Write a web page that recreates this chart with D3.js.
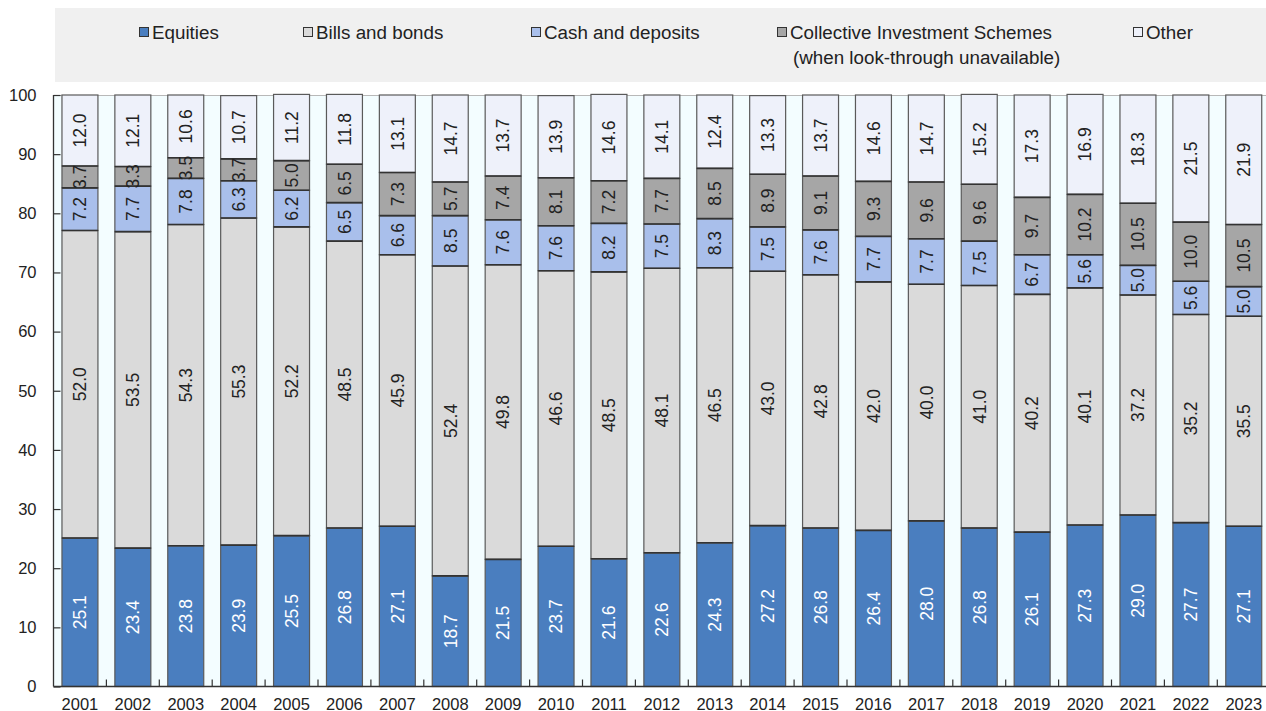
<!DOCTYPE html>
<html>
<head>
<meta charset="utf-8">
<script src="https://cdn.jsdelivr.net/npm/d3@7"></script>
<style>
  html, body { margin: 0; padding: 0; background: #ffffff; }
  svg { display: block; font-family: "Liberation Sans", Arial, sans-serif; }
</style>
</head>
<body>
<svg id="chart" width="1266" height="711"></svg>
<script>
// Portfolio composition by asset class, % of total
const years = ["2001","2002","2003","2004","2005","2006","2007","2008","2009","2010","2011","2012",
               "2013","2014","2015","2016","2017","2018","2019","2020","2021","2022","2023"];
const equities   = [25.1,23.4,23.8,23.9,25.5,26.8,27.1,18.7,21.5,23.7,21.6,22.6,24.3,27.2,26.8,26.4,28.0,26.8,26.1,27.3,29.0,27.7,27.1];
const billsBonds = [52.0,53.5,54.3,55.3,52.2,48.5,45.9,52.4,49.8,46.6,48.5,48.1,46.5,43.0,42.8,42.0,40.0,41.0,40.2,40.1,37.2,35.2,35.5];
const cashDeposits = [7.2,7.7,7.8,6.3,6.2,6.5,6.6,8.5,7.6,7.6,8.2,7.5,8.3,7.5,7.6,7.7,7.7,7.5,6.7,5.6,5.0,5.6,5.0];
const collective = [3.7,3.3,3.5,3.7,5.0,6.5,7.3,5.7,7.4,8.1,7.2,7.7,8.5,8.9,9.1,9.3,9.6,9.6,9.7,10.2,10.5,10.0,10.5];
const other      = [12.0,12.1,10.6,10.7,11.2,11.8,13.1,14.7,13.7,13.9,14.6,14.1,12.4,13.3,13.7,14.6,14.7,15.2,17.3,16.9,18.3,21.5,21.9];
const yTicks = [0,10,20,30,40,50,60,70,80,90,100];

const series = [
  { key: "eq",   name: "Equities",          values: equities,     fill: "#4a7ebf", text: "#ffffff" },
  { key: "bb",   name: "Bills and bonds",   values: billsBonds,   fill: "#dadada", text: "#222222" },
  { key: "cash", name: "Cash and deposits", values: cashDeposits, fill: "#a9bfeb", text: "#222222" },
  { key: "cis",  name: "Collective Investment Schemes", name2: "(when look-through unavailable)",
                                            values: collective,   fill: "#a6a6a6", text: "#222222" },
  { key: "oth",  name: "Other",             values: other,        fill: "#eef1fa", text: "#222222" }
];

const rows = years.map((yr, i) => {
  const r = { year: yr };
  series.forEach(s => { r[s.key] = s.values[i]; });
  return r;
});

const svg = d3.select("#chart");

// Plot geometry
const plotLeft = 53.5, plotTop = 95, plotBottom = 686.5;
const step = 52.9;
const plotRight = plotLeft + years.length * step;

const x = d3.scaleBand().domain(years).range([plotLeft, plotRight]).paddingInner(0.32).paddingOuter(0.16);
const y = d3.scaleLinear().domain([0, 100]).range([plotBottom, plotTop]);

// Legend panel
svg.append("rect").attr("x", 55).attr("y", 8).attr("width", 1220).attr("height", 74).attr("fill", "#f0f0f0");
const legendX = [139, 303, 531, 777, 1133];
series.forEach((s, i) => {
  const g = svg.append("g").attr("transform", `translate(${legendX[i]},0)`);
  g.append("rect").attr("x", 0.5).attr("y", 27.5).attr("width", 9).attr("height", 9)
    .attr("fill", s.fill).attr("stroke", "#333").attr("stroke-width", 1);
  g.append("text").attr("x", 13).attr("y", 38.5).attr("font-size", 18.8).attr("fill", "#222").text(s.name);
  if (s.name2) {
    g.append("text").attr("x", 16).attr("y", 63.5).attr("font-size", 18.8).attr("fill", "#222").text(s.name2);
  }
});

// Plot background
svg.append("rect").attr("x", plotLeft).attr("y", plotTop).attr("width", plotRight - plotLeft).attr("height", plotBottom - plotTop)
  .attr("fill", "#f3fdff");
svg.append("line").attr("x1", plotLeft).attr("x2", plotRight).attr("y1", plotTop + 0.5).attr("y2", plotTop + 0.5)
  .attr("stroke", "#b8b8b8").attr("stroke-width", 1);

// Stacked bars
const stack = d3.stack().keys(series.map(s => s.key));
const stacked = stack(rows);

stacked.forEach((layer, li) => {
  const s = series[li];
  svg.append("g").selectAll("rect").data(layer).join("rect")
    .attr("x", d => x(d.data.year))
    .attr("y", d => y(d[1]))
    .attr("width", x.bandwidth())
    .attr("height", d => y(d[0]) - y(d[1]))
    .attr("fill", s.fill)
    .attr("stroke", "#5a5a5a")
    .attr("stroke-width", 1.2);
});

// Segment boundaries drawn darker
stacked.forEach((layer, li) => {
  if (li === stacked.length - 1) return;
  svg.append("g").selectAll("line").data(layer).join("line")
    .attr("x1", d => x(d.data.year))
    .attr("x2", d => x(d.data.year) + x.bandwidth())
    .attr("y1", d => y(d[1]))
    .attr("y2", d => y(d[1]))
    .attr("stroke", "#333").attr("stroke-width", 1.6);
});

// Value labels, rotated, centred in each segment
stacked.forEach((layer, li) => {
  const s = series[li];
  svg.append("g").selectAll("text").data(layer).join("text")
    .attr("transform", d => {
      const cx = x(d.data.year) + x.bandwidth() / 2;
      const cy = (y(d[0]) + y(d[1])) / 2;
      return `translate(${cx},${cy}) rotate(-90)`;
    })
    .attr("text-anchor", "middle")
    .attr("dy", "0.36em")
    .attr("font-size", 17.5)
    .attr("fill", s.text)
    .text(d => d.data[s.key].toFixed(1));
});

// Y axis
const yAxis = d3.axisLeft(y).tickValues(yTicks).tickSize(0).tickPadding(0);
const yg = svg.append("g").attr("transform", `translate(${plotLeft},0)`).call(yAxis);
yg.select(".domain").remove();
yg.selectAll("text").attr("x", -17).attr("font-size", 16.5).attr("fill", "#222").attr("font-family", "Liberation Sans, Arial, sans-serif");
yg.selectAll(".tick").append("line").attr("x1", 0).attr("x2", 7).attr("stroke", "#333").attr("stroke-width", 1.2);
svg.append("line").attr("x1", plotLeft).attr("x2", plotLeft).attr("y1", plotTop).attr("y2", plotBottom)
  .attr("stroke", "#333").attr("stroke-width", 1.3);

// X axis
const xAxis = d3.axisBottom(x).tickSize(0).tickPadding(0);
const xg = svg.append("g").attr("transform", `translate(0,${plotBottom})`).call(xAxis);
xg.select(".domain").remove();
xg.selectAll("text").attr("y", 23).attr("dy", 0).attr("font-size", 16.5).attr("fill", "#222")
  .attr("font-family", "Liberation Sans, Arial, sans-serif");
// Category boundary ticks
svg.append("g").selectAll("line").data(years.slice(1)).join("line")
  .attr("x1", d => x(d) - x.step() * x.paddingInner() / 2)
  .attr("x2", d => x(d) - x.step() * x.paddingInner() / 2)
  .attr("y1", plotBottom).attr("y2", plotBottom - 7)
  .attr("stroke", "#333").attr("stroke-width", 1.2);
svg.append("line").attr("x1", plotLeft).attr("x2", plotRight).attr("y1", plotBottom).attr("y2", plotBottom)
  .attr("stroke", "#333").attr("stroke-width", 1.4);
</script>
</body>
</html>
